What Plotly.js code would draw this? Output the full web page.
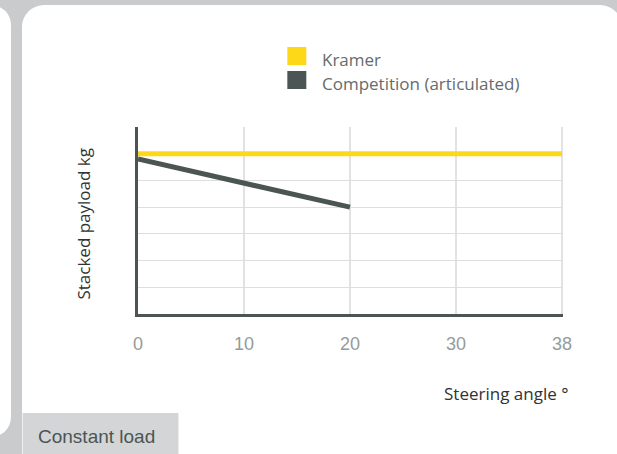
<!DOCTYPE html>
<html>
<head>
<meta charset="utf-8">
<script src="https://cdn.plot.ly/plotly-3.0.1.min.js"></script>
<style>
  html, body { margin: 0; padding: 0; background: #cacbcd; }
  #wrap { position: relative; width: 617px; height: 454px; overflow: hidden; background: #cacbcd; }
  #leftcard { position: absolute; left: -40px; top: 5px; width: 51px; height: 432px; background: #fff; border-radius: 0 20px 20px 0; }
  #card { position: absolute; left: 22px; top: 5px; width: 600px; height: 480px; background: #fff; border-radius: 22px 22px 0 0; }
  #chart { position: absolute; left: 0; top: 0; width: 617px; height: 454px; }
</style>
</head>
<body>
<div id="wrap">
  <div id="leftcard"></div>
  <div id="card"></div>
  <div id="chart"></div>
</div>
<script>
// ---- data ----
const angleCategories = ["0", "10", "20", "30", "38"];
const kramerName = "Kramer";
const kramerValues = [6, 6, 6, 6, 6];
const competitionName = "Competition (articulated)";
const competitionAngles = ["0", "10", "20"];
const competitionValues = [5.8, 4.9, 4.0];
const yGridValues = [1, 2, 3, 4, 5, 6];
const xTitle = "Steering angle °";
const yTitle = "Stacked payload kg";
const footerLabel = "Constant load";

// ---- styling ----
const yellow = "#fdd819";
const dark = "#4a5554";

// plot area in pixels
const L = 137.5, R = 563, T = 127, B = 314;
const px = x => (x - L) / (R - L);
const py = y => (B - y) / (B - T);

const traces = [
  {
    x: competitionAngles, y: competitionValues, type: "scatter", mode: "lines",
    name: competitionName, line: { color: dark, width: 5 }, showlegend: false, hoverinfo: "skip"
  },
  {
    x: angleCategories, y: kramerValues, type: "scatter", mode: "lines",
    name: kramerName, line: { color: yellow, width: 5 }, showlegend: false, hoverinfo: "skip"
  }
];

const legendFont = { family: "Open Sans, sans-serif", size: 17, color: "#666b6b" };
const titleFont = { family: "Open Sans, sans-serif", size: 17, color: "#2f3333" };

const layout = {
  width: 617, height: 454,
  margin: { l: L, r: 617 - R, t: T, b: 454 - B, pad: 0 },
  paper_bgcolor: "rgba(0,0,0,0)",
  plot_bgcolor: "rgba(0,0,0,0)",
  showlegend: false,
  xaxis: {
    type: "category",
    categoryorder: "array",
    categoryarray: angleCategories,
    range: [0, angleCategories.length - 1 + 0.01],
    showgrid: true, gridcolor: "#e2e2e2", gridwidth: 1.5,
    showline: true, linecolor: dark, linewidth: 3,
    zeroline: false,
    ticks: "", ticklabelstandoff: 11,
    tickfont: { family: "Liberation Sans, Arial, sans-serif", size: 18, color: "#959b9a", weight: 300 },
    fixedrange: true
  },
  yaxis: {
    range: [0, 7],
    tickvals: yGridValues,
    showticklabels: false,
    showgrid: true, gridcolor: "#dedede", gridwidth: 1.2,
    showline: true, linecolor: dark, linewidth: 3,
    zeroline: false, ticks: "",
    fixedrange: true
  },
  shapes: [
    { type: "rect", xref: "paper", yref: "paper", x0: px(287), x1: px(306), y0: py(65), y1: py(47),
      fillcolor: yellow, line: { width: 0 } },
    { type: "rect", xref: "paper", yref: "paper", x0: px(287), x1: px(306), y0: py(89), y1: py(71),
      fillcolor: dark, line: { width: 0 } },
    { type: "rect", xref: "paper", yref: "paper", x0: px(22), x1: px(178), y0: py(460), y1: py(413),
      fillcolor: "#d4d5d6", line: { width: 0 }, layer: "below" }
  ],
  annotations: [
    { xref: "paper", yref: "paper", x: px(320), y: py(60), xanchor: "left", yanchor: "middle",
      text: kramerName, showarrow: false, font: legendFont },
    { xref: "paper", yref: "paper", x: px(320), y: py(83), xanchor: "left", yanchor: "middle",
      text: competitionName, showarrow: false, font: legendFont },
    { xref: "paper", yref: "paper", x: px(82), y: py(224), xanchor: "center", yanchor: "middle",
      text: yTitle, textangle: -90, showarrow: false, font: titleFont },
    { xref: "paper", yref: "paper", x: px(570), y: py(393), xanchor: "right", yanchor: "middle",
      text: xTitle, showarrow: false, font: titleFont },
    { xref: "paper", yref: "paper", x: px(35), y: py(436), xanchor: "left", yanchor: "middle",
      text: footerLabel, showarrow: false,
      font: { family: "Liberation Sans, Arial, sans-serif", size: 19, color: "#4a5554" } }
  ]
};

Plotly.newPlot("chart", traces, layout, { displayModeBar: false, staticPlot: true });
</script>
</body>
</html>
